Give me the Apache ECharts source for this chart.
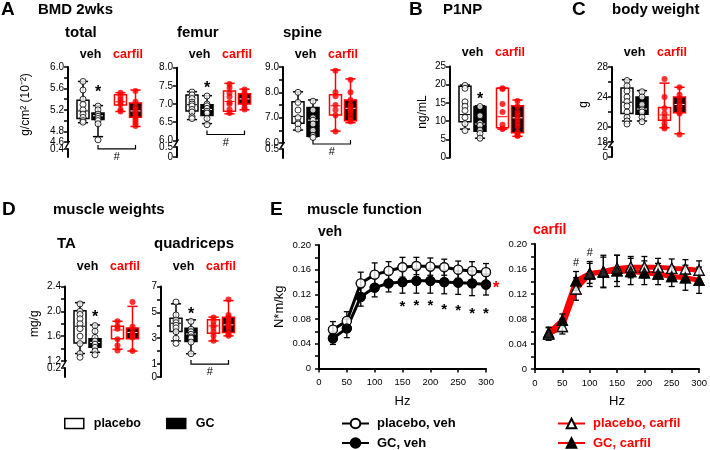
<!DOCTYPE html>
<html><head><meta charset="utf-8">
<script src="https://cdn.jsdelivr.net/npm/echarts@6/dist/echarts.min.js"></script>
<style>html,body{margin:0;padding:0;background:#fff}#c{width:710px;height:450px}</style>
</head><body><div id="c"></div>
<script>
// ---------------- DATA ----------------
const groupNames = ['placebo, veh', 'GC, veh', 'placebo, carfil', 'GC, carfil'];
const boxPos = [1, 2, 3.5, 4.5];
// box stats: [min, Q1, median, Q3, max]
const totalBoxes = [[4.96,5.04,5.18,5.38,5.73],[4.70,5.02,5.09,5.14,5.28],[5.17,5.29,5.35,5.48,5.52],[4.89,5.06,5.18,5.33,5.57]];
const totalDots = [[5.73,5.57,5.40,5.30,5.20,5.12,5.06,5.00,4.97],[5.27,5.20,5.12,5.08,5.04,5.00,4.94,4.64],[5.52,5.46,5.40,5.35,5.30,5.20,5.17],[5.55,5.35,5.26,5.20,5.15,5.10,5.05,5.00,4.95,4.90]];
const femurBoxes = [[6.57,6.81,6.98,7.25,7.34],[6.46,6.68,6.85,6.98,7.23],[6.73,6.80,7.07,7.36,7.57],[6.84,7.00,7.14,7.28,7.41]];
const femurDots = [[7.33,7.25,7.15,7.05,7.00,6.95,6.85,6.78,6.65,6.60],[7.22,7.00,6.95,6.88,6.80,6.75,6.60,6.43],[7.55,7.45,7.30,7.20,7.05,7.00,6.85,6.75],[7.40,7.30,7.25,7.20,7.15,7.10,7.05,7.00,6.90,6.85]];
const spineBoxes = [[6.51,6.78,7.05,7.63,8.02],[6.25,6.27,6.90,7.40,7.70],[6.47,7.11,7.47,7.90,8.88],[6.80,6.88,7.37,7.70,8.53]];
const spineDots = [[8.00,7.60,7.30,7.00,6.80,6.75,6.55],[7.65,7.30,7.00,6.90,6.75,6.50,6.30,6.22],[8.85,8.00,7.85,7.50,7.30,7.10,6.45],[8.50,8.00,7.70,7.50,7.40,7.30,7.20,7.05,6.90,6.85]];
const p1npBoxes = [[7.8,9.8,11.8,19.6,19.9],[5.3,7.2,9.2,14.0,14.2],[7.8,8.2,11.2,19.0,19.1],[5.8,6.8,10.9,14.2,15.8]];
const p1npDots = [[19.8,19.0,15.3,14.1,12.9,11.0,9.3,7.4],[14.0,11.5,9.5,8.8,7.5,6.6,5.3],[19.0,18.8,14.7,12.5,9.0,8.0,7.8],[15.5,14.0,12.5,11.5,10.5,9.5,8.5,7.0,6.2,5.9]];
const bwBoxes = [[20.8,21.8,23.3,25.2,26.3],[20.8,21.7,22.4,24.0,24.85],[19.9,20.9,21.6,22.6,25.85],[19.1,21.9,23.0,24.0,25.3]];
const bwDots = [[26.2,25.5,24.8,24.0,23.4,22.8,22.0,21.3,20.8,20.4],[24.7,24.0,23.0,22.3,22.0,21.3,20.7],[26.4,24.0,22.5,21.8,21.2,20.5,20.0,19.8],[25.3,24.3,23.8,23.2,22.8,22.5,22.0,21.8,19.0]];
const taBoxes = [[1.32,1.49,1.76,2.01,2.14],[1.34,1.42,1.50,1.56,1.78],[1.39,1.56,1.70,1.76,1.84],[1.36,1.56,1.66,1.73,2.08]];
const taDots = [[2.12,2.00,1.95,1.88,1.80,1.72,1.60,1.48,1.32,1.26],[1.77,1.68,1.58,1.52,1.47,1.42,1.36,1.30],[1.84,1.76,1.72,1.55,1.45,1.37],[2.15,1.75,1.68,1.63,1.60,1.58,1.36]];
const quadBoxes = [[2.79,3.51,4.16,4.55,5.66],[1.80,2.74,3.33,3.77,4.42],[2.79,3.39,3.95,4.42,4.63],[3.18,3.44,4.03,4.63,5.91]];
const quadDots = [[5.8,4.8,4.4,4.2,4.0,3.8,3.5,3.0,2.6],[4.3,3.7,3.5,3.3,3.1,3.0,2.7,1.8],[4.6,4.3,4.0,3.8,3.5,3.2,2.8],[6.0,4.8,4.6,4.4,4.2,4.0,3.9,3.6,3.3,3.2]];

// muscle function
const hz = [25,50,75,100,125,150,175,200,225,250,275,300];
const placeboVeh = [0.063,0.077,0.138,0.152,0.158,0.164,0.166,0.165,0.164,0.160,0.158,0.156];
const placeboVehErr = [0.013,0.015,0.018,0.019,0.015,0.016,0.014,0.014,0.013,0.014,0.015,0.014];
const gcVeh = [0.049,0.065,0.116,0.131,0.138,0.140,0.142,0.142,0.140,0.139,0.138,0.136];
const gcVehErr = [0.010,0.015,0.015,0.015,0.014,0.018,0.020,0.020,0.019,0.019,0.020,0.017];
const placeboCarfil = [0.056,0.068,0.128,0.152,0.156,0.161,0.163,0.163,0.163,0.161,0.160,0.158];
const placeboCarfilErr = [0.010,0.012,0.018,0.020,0.026,0.021,0.017,0.017,0.014,0.015,0.015,0.015];
const gcCarfil = [0.058,0.078,0.141,0.153,0.155,0.157,0.156,0.154,0.152,0.148,0.146,0.142];
const gcCarfilErr = [0.009,0.010,0.015,0.016,0.024,0.025,0.021,0.019,0.017,0.016,0.020,0.021];
const vehStarHz = [150,175,200,225,250,275,300];
const vehStarY = [0.105,0.106,0.106,0.100,0.099,0.094,0.093];
const carfilHashHz = [75,100];
const carfilHashY = [0.170,0.186];

// ---------------- STYLE / LAYOUT ----------------
const RED = '#ff0000', BLK = '#000000', WHITE = '#ffffff';
const FF = '"Liberation Sans", Arial, Helvetica, sans-serif';

const panels = [
  {left:68, top:67, height:75, boxes:totalBoxes, dots:totalDots, min:4.6, max:6.0, interval:0.2, labels:[4.6,4.8,5.2,5.6,6.0], dec:1,
   stub:{top:149, height:8, max:0.4, dec:1}, name:'g/cm² (10⁻²)', nameGap:36, headY:55, star:5.58, bracket:4.47},
  {left:177, top:67.7, height:72.6, boxes:femurBoxes, dots:femurDots, min:6.0, max:8.0, interval:0.5, labels:null, dec:1,
   stub:{top:147, height:10, max:0.5, dec:1}, name:'', headY:55, star:7.5, bracket:6.16},
  {left:283, top:67, height:76, boxes:spineBoxes, dots:spineDots, min:6, max:9, interval:0.5, labels:[6,7,8,9], dec:1,
   stub:{top:149, height:9, max:0.5, dec:1}, name:'', headY:55, star:null, bracket:5.96},
  {left:450, top:66.5, height:91, boxes:p1npBoxes, dots:p1npDots, min:0, max:25, interval:5, labels:null, dec:0,
   stub:null, name:'ng/mL', nameGap:21, headY:53, star:16.75, bracket:null},
  {left:612, top:67, height:75, boxes:bwBoxes, dots:bwDots, min:18, max:28, interval:2, labels:[18,20,24,28], dec:0,
   stub:{top:147, height:10, max:2, dec:0}, name:'g', nameGap:22, headY:53, star:null, bracket:null},
  {left:65, top:286.5, height:74.5, boxes:taBoxes, dots:taDots, min:1.2, max:2.4, interval:0.2, labels:[1.2,1.6,2.0,2.4], dec:1,
   stub:{top:368, height:9, max:0.2, dec:1}, name:'mg/g', nameGap:24, headY:267, star:1.95, bracket:null},
  {left:161, top:286.5, height:90.5, boxes:quadBoxes, dots:quadDots, min:0, max:7, interval:1, labels:[0,1,3,5,7], dec:0,
   stub:null, name:'', headY:267, star:5.06, bracket:1.0}
];

const grids = [], xAxes = [], yAxes = [], series = [];
function addGrid(g, x, y) {
  const i = grids.length;
  grids.push(g); xAxes.push(Object.assign({gridIndex:i}, x)); yAxes.push(Object.assign({gridIndex:i}, y));
  return i;
}
function yBase(extra) {
  return Object.assign({
    type:'value',
    axisLine:{show:true, onZero:false, lineStyle:{color:BLK, width:2}},
    axisTick:{show:true, inside:false, length:4, lineStyle:{color:BLK, width:1.5}},
    splitLine:{show:false},
    axisLabel:{color:BLK, fontSize:10, fontFamily:FF, margin:4}
  }, extra);
}
function fmtFor(labels, dec) {
  return function (v) {
    if (labels && !labels.some(L => Math.abs(L - v) < 1e-6)) return '';
    if (Math.abs(v) < 1e-9) return '0';
    return dec === 0 ? String(Math.round(v)) : v.toFixed(dec);
  };
}
function makeBox(fill) {
  return function (params, api) {
    const x = api.value(0);
    const pMin = api.coord([x, api.value(1)]);
    const pQ1 = api.coord([x, api.value(2)]);
    const pMed = api.coord([x, api.value(3)]);
    const pQ3 = api.coord([x, api.value(4)]);
    const pMax = api.coord([x, api.value(5)]);
    const stroke = api.value(6) ? RED : BLK;
    const w = api.size([0.8, 0])[0];
    const cw = w * 0.85;
    const cx = pMin[0];
    const medColor = fill === BLK ? WHITE : stroke;
    const ls = {stroke:stroke, lineWidth:1.5};
    return {type:'group', children:[
      {type:'line', shape:{x1:cx, y1:pMax[1], x2:cx, y2:pMin[1]}, style:ls},
      {type:'line', shape:{x1:cx-cw/2, y1:pMax[1], x2:cx+cw/2, y2:pMax[1]}, style:ls},
      {type:'line', shape:{x1:cx-cw/2, y1:pMin[1], x2:cx+cw/2, y2:pMin[1]}, style:ls},
      {type:'rect', shape:{x:cx-w/2, y:pQ3[1], width:w, height:pQ1[1]-pQ3[1]}, style:{fill:fill, stroke:stroke, lineWidth:1.5}},
      {type:'line', shape:{x1:cx-w/2+1, y1:pMed[1], x2:cx+w/2-1, y2:pMed[1]}, style:{stroke:medColor, lineWidth:1}}
    ]};
  };
}

panels.forEach(p => {
  const gi = addGrid({left:p.left, top:p.top, width:75, height:p.height},
    {type:'value', min:0, max:5, show:false},
    yBase({min:p.min, max:p.max, interval:p.interval,
      axisLabel:{color:BLK, fontSize:10, fontFamily:FF, margin:4, formatter:fmtFor(p.labels, p.dec)},
      name:p.name, nameLocation:'middle', nameRotate:90, nameGap:p.nameGap || 30,
      nameTextStyle:{fontSize:12, color:BLK, fontFamily:FF}}));
  p.gi = gi;
  series.push({type:'custom', name:'placebo', xAxisIndex:gi, yAxisIndex:gi, renderItem:makeBox(WHITE), z:2, silent:true,
    encode:{x:0, y:[1,2,3,4,5]},
    data:[[boxPos[0]].concat(p.boxes[0], [0]), [boxPos[2]].concat(p.boxes[2], [1])]});
  series.push({type:'custom', name:'GC', xAxisIndex:gi, yAxisIndex:gi, renderItem:makeBox(BLK), z:2, silent:true,
    encode:{x:0, y:[1,2,3,4,5]},
    data:[[boxPos[1]].concat(p.boxes[1], [0]), [boxPos[3]].concat(p.boxes[3], [1])]});
  const dd = [];
  p.dots.forEach((arr, g) => arr.forEach(v => dd.push({value:[boxPos[g], v],
    itemStyle: g < 2 ? {color:WHITE, borderColor:BLK, borderWidth:1} : {color:RED, borderColor:RED, borderWidth:0}})));
  series.push({type:'scatter', xAxisIndex:gi, yAxisIndex:gi, symbolSize:6, z:3, silent:true, data:dd});
  if (p.stub) {
    p.sgi = addGrid({left:p.left, top:p.stub.top, width:75, height:p.stub.height},
      {type:'value', min:0, max:5, show:false},
      yBase({min:0, max:p.stub.max, interval:p.stub.max,
        axisLabel:{color:BLK, fontSize:10, fontFamily:FF, margin:4, formatter:fmtFor(null, p.stub.dec)}}));
  }
});

// muscle function grids
function eX() {
  return {type:'value', min:0, max:300, interval:50,
    axisLine:{show:true, onZero:false, lineStyle:{color:BLK, width:2}},
    axisTick:{show:true, length:4, lineStyle:{color:BLK, width:1.5}},
    splitLine:{show:false},
    axisLabel:{color:BLK, fontSize:9.5, fontFamily:FF, margin:9},
    name:'Hz', nameLocation:'middle', nameGap:26, nameTextStyle:{fontSize:13, color:BLK, fontFamily:FF}};
}
function eY(name) {
  return yBase({min:0, max:0.2, interval:0.02,
    axisLabel:{color:BLK, fontSize:9.5, fontFamily:FF, margin:8,
      formatter:v => (Math.abs(v) < 1e-9 ? '0' : (Math.round(v*100) % 4 === 0 ? v.toFixed(2) : ''))},
    name:name, nameLocation:'middle', nameRotate:90, nameGap:33, nameTextStyle:{fontSize:13, color:BLK, fontFamily:FF}});
}
const gVeh = addGrid({left:319, top:245, width:167, height:123.5}, eX(), eY('N*m/kg'));
const gCar = addGrid({left:535, top:244, width:165, height:125}, eX(), eY(''));

function renderErr(params, api) {
  const x = api.value(0), m = api.value(1), e = api.value(2);
  const t = api.coord([x, m + e]), b = api.coord([x, m - e]);
  const hw = 3, st = {stroke:BLK, lineWidth:1.3};
  return {type:'group', children:[
    {type:'line', shape:{x1:t[0], y1:t[1], x2:b[0], y2:b[1]}, style:st},
    {type:'line', shape:{x1:t[0]-hw, y1:t[1], x2:t[0]+hw, y2:t[1]}, style:st},
    {type:'line', shape:{x1:b[0]-hw, y1:b[1], x2:b[0]+hw, y2:b[1]}, style:st}
  ]};
}
function addCurve(gi, name, vals, errs, lineColor, lineWidth, symbol, symSize, fill) {
  const pts = hz.map((h, i) => [h, vals[i]]);
  const itemStyle = {color:fill, borderColor:BLK, borderWidth:1.3};
  series.push({type:'line', name:name, xAxisIndex:gi, yAxisIndex:gi, data:pts, z:2, silent:true,
    lineStyle:{color:lineColor, width:lineWidth}, symbol:symbol, symbolSize:symSize, itemStyle:itemStyle, showSymbol:true});
  series.push({type:'custom', xAxisIndex:gi, yAxisIndex:gi, z:3, silent:true, renderItem:renderErr,
    encode:{x:0, y:1}, data:hz.map((h, i) => [h, vals[i], errs[i]])});
  series.push({type:'scatter', xAxisIndex:gi, yAxisIndex:gi, z:4, silent:true, data:pts,
    symbol:symbol, symbolSize:symSize, itemStyle:itemStyle});
}
addCurve(gVeh, 'placebo, veh', placeboVeh, placeboVehErr, BLK, 3, 'circle', 9, WHITE);
addCurve(gVeh, 'GC, veh', gcVeh, gcVehErr, BLK, 3, 'circle', 9, BLK);
addCurve(gCar, 'placebo, carfil', placeboCarfil, placeboCarfilErr, RED, 5, 'triangle', 10, WHITE);
addCurve(gCar, 'GC, carfil', gcCarfil, gcCarfilErr, RED, 5, 'triangle', 10, BLK);

const legendText = {fontSize:13, fontWeight:'bold', fontFamily:FF};
function lineLegend(left, top, name, color) {
  return {left:left, top:top, padding:0, orient:'horizontal', itemWidth:27, itemHeight:12, selectedMode:false,
    textStyle:Object.assign({color:color, padding:[0,0,0,3]}, legendText), data:[name]};
}
const option = {
  animation:false,
  backgroundColor:'#ffffff',
  textStyle:{fontFamily:FF},
  grid:grids, xAxis:xAxes, yAxis:yAxes, series:series,
  legend:[
    {left:64, top:417, padding:0, orient:'horizontal', itemWidth:19, itemHeight:10, itemGap:25, icon:'rect', selectedMode:false,
     textStyle:Object.assign({color:BLK, padding:[0,0,0,5]}, legendText, {fontSize:12.5}),
     data:[{name:'placebo', itemStyle:{color:WHITE, borderColor:BLK, borderWidth:1.5}},
           {name:'GC', itemStyle:{color:BLK, borderColor:BLK, borderWidth:1.5}}]},
    lineLegend(341, 417, 'placebo, veh', BLK),
    lineLegend(341, 436.5, 'GC, veh', BLK),
    lineLegend(557, 417, 'placebo, carfil', RED),
    lineLegend(557, 436.5, 'GC, carfil', RED)
  ]
};

const chart = echarts.init(document.getElementById('c'));
chart.setOption(option);

// ---------------- ANNOTATIONS ----------------
const gr = [];
function txt(x, y, s, size, color, weight, align) {
  gr.push({type:'text', x:x, y:y, silent:true, z:50,
    style:{text:s, fill:color || BLK, fontSize:size, fontWeight:weight || 'bold', fontFamily:FF,
      align:align || 'left', verticalAlign:'middle'}});
}
function line(pts, color, w) {
  gr.push({type:'polyline', silent:true, z:50, shape:{points:pts}, style:{stroke:color || BLK, lineWidth:w || 1.2, fill:null}});
}
// panel letters and titles
txt(1, 10, 'A', 19); txt(38, 10, 'BMD 2wks', 15);
txt(409, 10, 'B', 19); txt(443, 10, 'P1NP', 15);
txt(572, 10, 'C', 19); txt(612, 10, 'body weight', 15);
txt(2, 210, 'D', 19); txt(53, 210, 'muscle weights', 15);
txt(270, 210, 'E', 19); txt(307, 210, 'muscle function', 15);
txt(65, 33, 'total', 15); txt(177, 33, 'femur', 15); txt(283, 33, 'spine', 15);
txt(57, 244, 'TA', 15); txt(154, 244, 'quadriceps', 15);
txt(318, 232, 'veh', 14); txt(533, 230, 'carfil', 14, RED);

panels.forEach(p => {
  const gi = p.gi;
  const a = chart.convertToPixel({gridIndex:gi}, [(boxPos[0] + boxPos[1]) / 2, p.max]);
  const b = chart.convertToPixel({gridIndex:gi}, [(boxPos[2] + boxPos[3]) / 2, p.max]);
  txt(a[0], p.headY, 'veh', 12.5, BLK, 'bold', 'center');
  txt(b[0], p.headY, 'carfil', 12.5, RED, 'bold', 'center');
  if (p.star != null) {
    const s = chart.convertToPixel({gridIndex:gi}, [boxPos[1], p.star]);
    txt(s[0], s[1] + 3, '*', 16, BLK, 'bold', 'center');
  }
  if (p.bracket != null) {
    const l = chart.convertToPixel({gridIndex:gi}, [boxPos[1], p.bracket]);
    const r = chart.convertToPixel({gridIndex:gi}, [boxPos[3], p.bracket]);
    line([[l[0], l[1]-4], l, r, [r[0], r[1]-4]], BLK, 1.2);
    txt((l[0] + r[0]) / 2, l[1] + 8, '#', 11, BLK, 'normal', 'center');
  }
  if (p.stub) {
    const yTop = p.top + p.height, yBot = p.stub.top;
    line([[p.left - 2.5, yBot - 1], [p.left + 1.5, yTop - 1]], BLK, 1.5);
  }
});
vehStarHz.forEach((h, i) => {
  const s = chart.convertToPixel({gridIndex:gVeh}, [h, vehStarY[i]]);
  txt(s[0], s[1] + 3, '*', 15, BLK, 'bold', 'center');
});
{
  const s = chart.convertToPixel({gridIndex:gVeh}, [318, 0.134]);
  txt(s[0], s[1] + 3, '*', 17, RED, 'bold', 'center');
}
carfilHashHz.forEach((h, i) => {
  const s = chart.convertToPixel({gridIndex:gCar}, [h, carfilHashY[i]]);
  txt(s[0], s[1], '#', 11, BLK, 'normal', 'center');
});
chart.setOption({graphic:gr});
</script></body></html>
